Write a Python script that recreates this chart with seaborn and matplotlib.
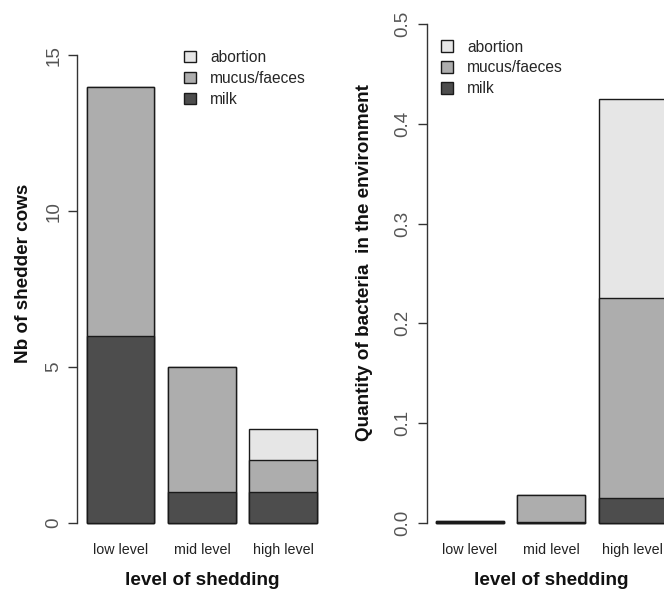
import matplotlib
matplotlib.use("Agg")
import matplotlib.pyplot as plt
from matplotlib.patches import Patch
import seaborn as sns
import pandas as pd
import numpy as np

# ---- data ----
levels = ["low level", "mid level", "high level"]
components = ["abortion", "mucus/faeces", "milk"]
colors = {"abortion": "#E6E6E6", "mucus/faeces": "#ADADAD", "milk": "#4D4D4D"}

cows_milk = [6, 1, 1]
cows_mucus = [8, 4, 1]
cows_abortion = [0, 0, 1]

bact_milk = [0.001, 0.001, 0.025]
bact_mucus = [0.0005, 0.0265, 0.2]
bact_abortion = [0.0, 0.0, 0.2]

left_ticks = [0, 5, 10, 15]
right_ticks = [0.0, 0.1, 0.2, 0.3, 0.4, 0.5]

sns.set_theme(style="white")
plt.rcParams["font.family"] = ["Liberation Sans", "DejaVu Sans"]

W, H = 664, 593
fig = plt.figure(figsize=(W / 100, H / 100), dpi=100)

def px_axes(x0, x1, y0, y1):
    return fig.add_axes([x0 / W, 1 - y1 / H, (x1 - x0) / W, (y1 - y0) / H])

ax1 = px_axes(77.3, 326.6, 4.4, 542.6)
ax2 = px_axes(426.5, 675.8, 4.4, 542.6)

EDGE = "#1a1a1a"
BW = 1 / 1.2

def stacked(ax, milk, mucus, abortion):
    milk = np.array(milk, float)
    mucus = np.array(mucus, float)
    abortion = np.array(abortion, float)
    layers = [
        ("abortion", milk + mucus + abortion),
        ("mucus/faeces", milk + mucus),
        ("milk", milk),
    ]
    for name, vals in layers:
        df = pd.DataFrame({"level": levels, "value": vals})
        sns.barplot(data=df, x="level", y="value", order=levels, ax=ax,
                    color=colors[name], saturation=1, width=BW,
                    edgecolor=EDGE, linewidth=1.0, errorbar=None)

stacked(ax1, cows_milk, cows_mucus, cows_abortion)
stacked(ax2, bact_milk, bact_mucus, bact_abortion)

xl = ((0.064 - 0.7) / 1.2, (3.736 - 0.7) / 1.2)

for ax, ticks, ylim, ylabel, lab_x, lab_y, tlabels in [
    (ax1, left_ticks, (-0.64, 16.64), "Nb of shedder cows", -0.183, 0.501,
     [str(t) for t in left_ticks]),
    (ax2, right_ticks, (-0.02, 0.52), "Quantity of bacteria  in the environment", -0.215, 0.52,
     [f"{t:.1f}" for t in right_ticks]),
]:
    ax.set_xlim(*xl)
    ax.set_ylim(*ylim)
    ax.set_facecolor("none")
    for s in ["top", "right", "bottom"]:
        ax.spines[s].set_visible(False)
    ax.spines["left"].set_bounds(ticks[0], ticks[-1])
    ax.spines["left"].set_color("#333333")
    ax.spines["left"].set_linewidth(1.0)
    ax.set_yticks(ticks)
    ax.set_yticklabels(tlabels, rotation=90, va="center", fontsize=13.5, color="#555555")
    ax.tick_params(axis="y", left=True, length=6.3, width=1.0, color="#333333", pad=4.5)
    ax.tick_params(axis="x", bottom=False, length=0, pad=0.5, labelsize=10.3, labelcolor="#222222")
    ax.set_ylabel(ylabel, fontsize=13.6, fontweight="bold", color="#111111")
    ax.yaxis.set_label_coords(lab_x, lab_y)
    ax.set_xlabel("level of shedding", fontsize=13.6, fontweight="bold", color="#111111")
    ax.xaxis.set_label_coords(0.5, -0.055)
    ax.grid(False)

handles = [Patch(facecolor=colors[c], edgecolor=EDGE, linewidth=1.0, label=c) for c in components]
for ax, (lx, ly) in [(ax1, (184, 50)), (ax2, (441, 39.5))]:
    fig.legend(handles=handles, loc="upper left", bbox_to_anchor=(lx / W, 1 - ly / H),
               bbox_transform=fig.transFigure, frameon=False, fontsize=11.2,
               handlelength=0.78, handleheight=0.78, handletextpad=0.9,
               labelspacing=0.38, borderpad=0, borderaxespad=0)

fig.savefig("out.png", dpi=100)
